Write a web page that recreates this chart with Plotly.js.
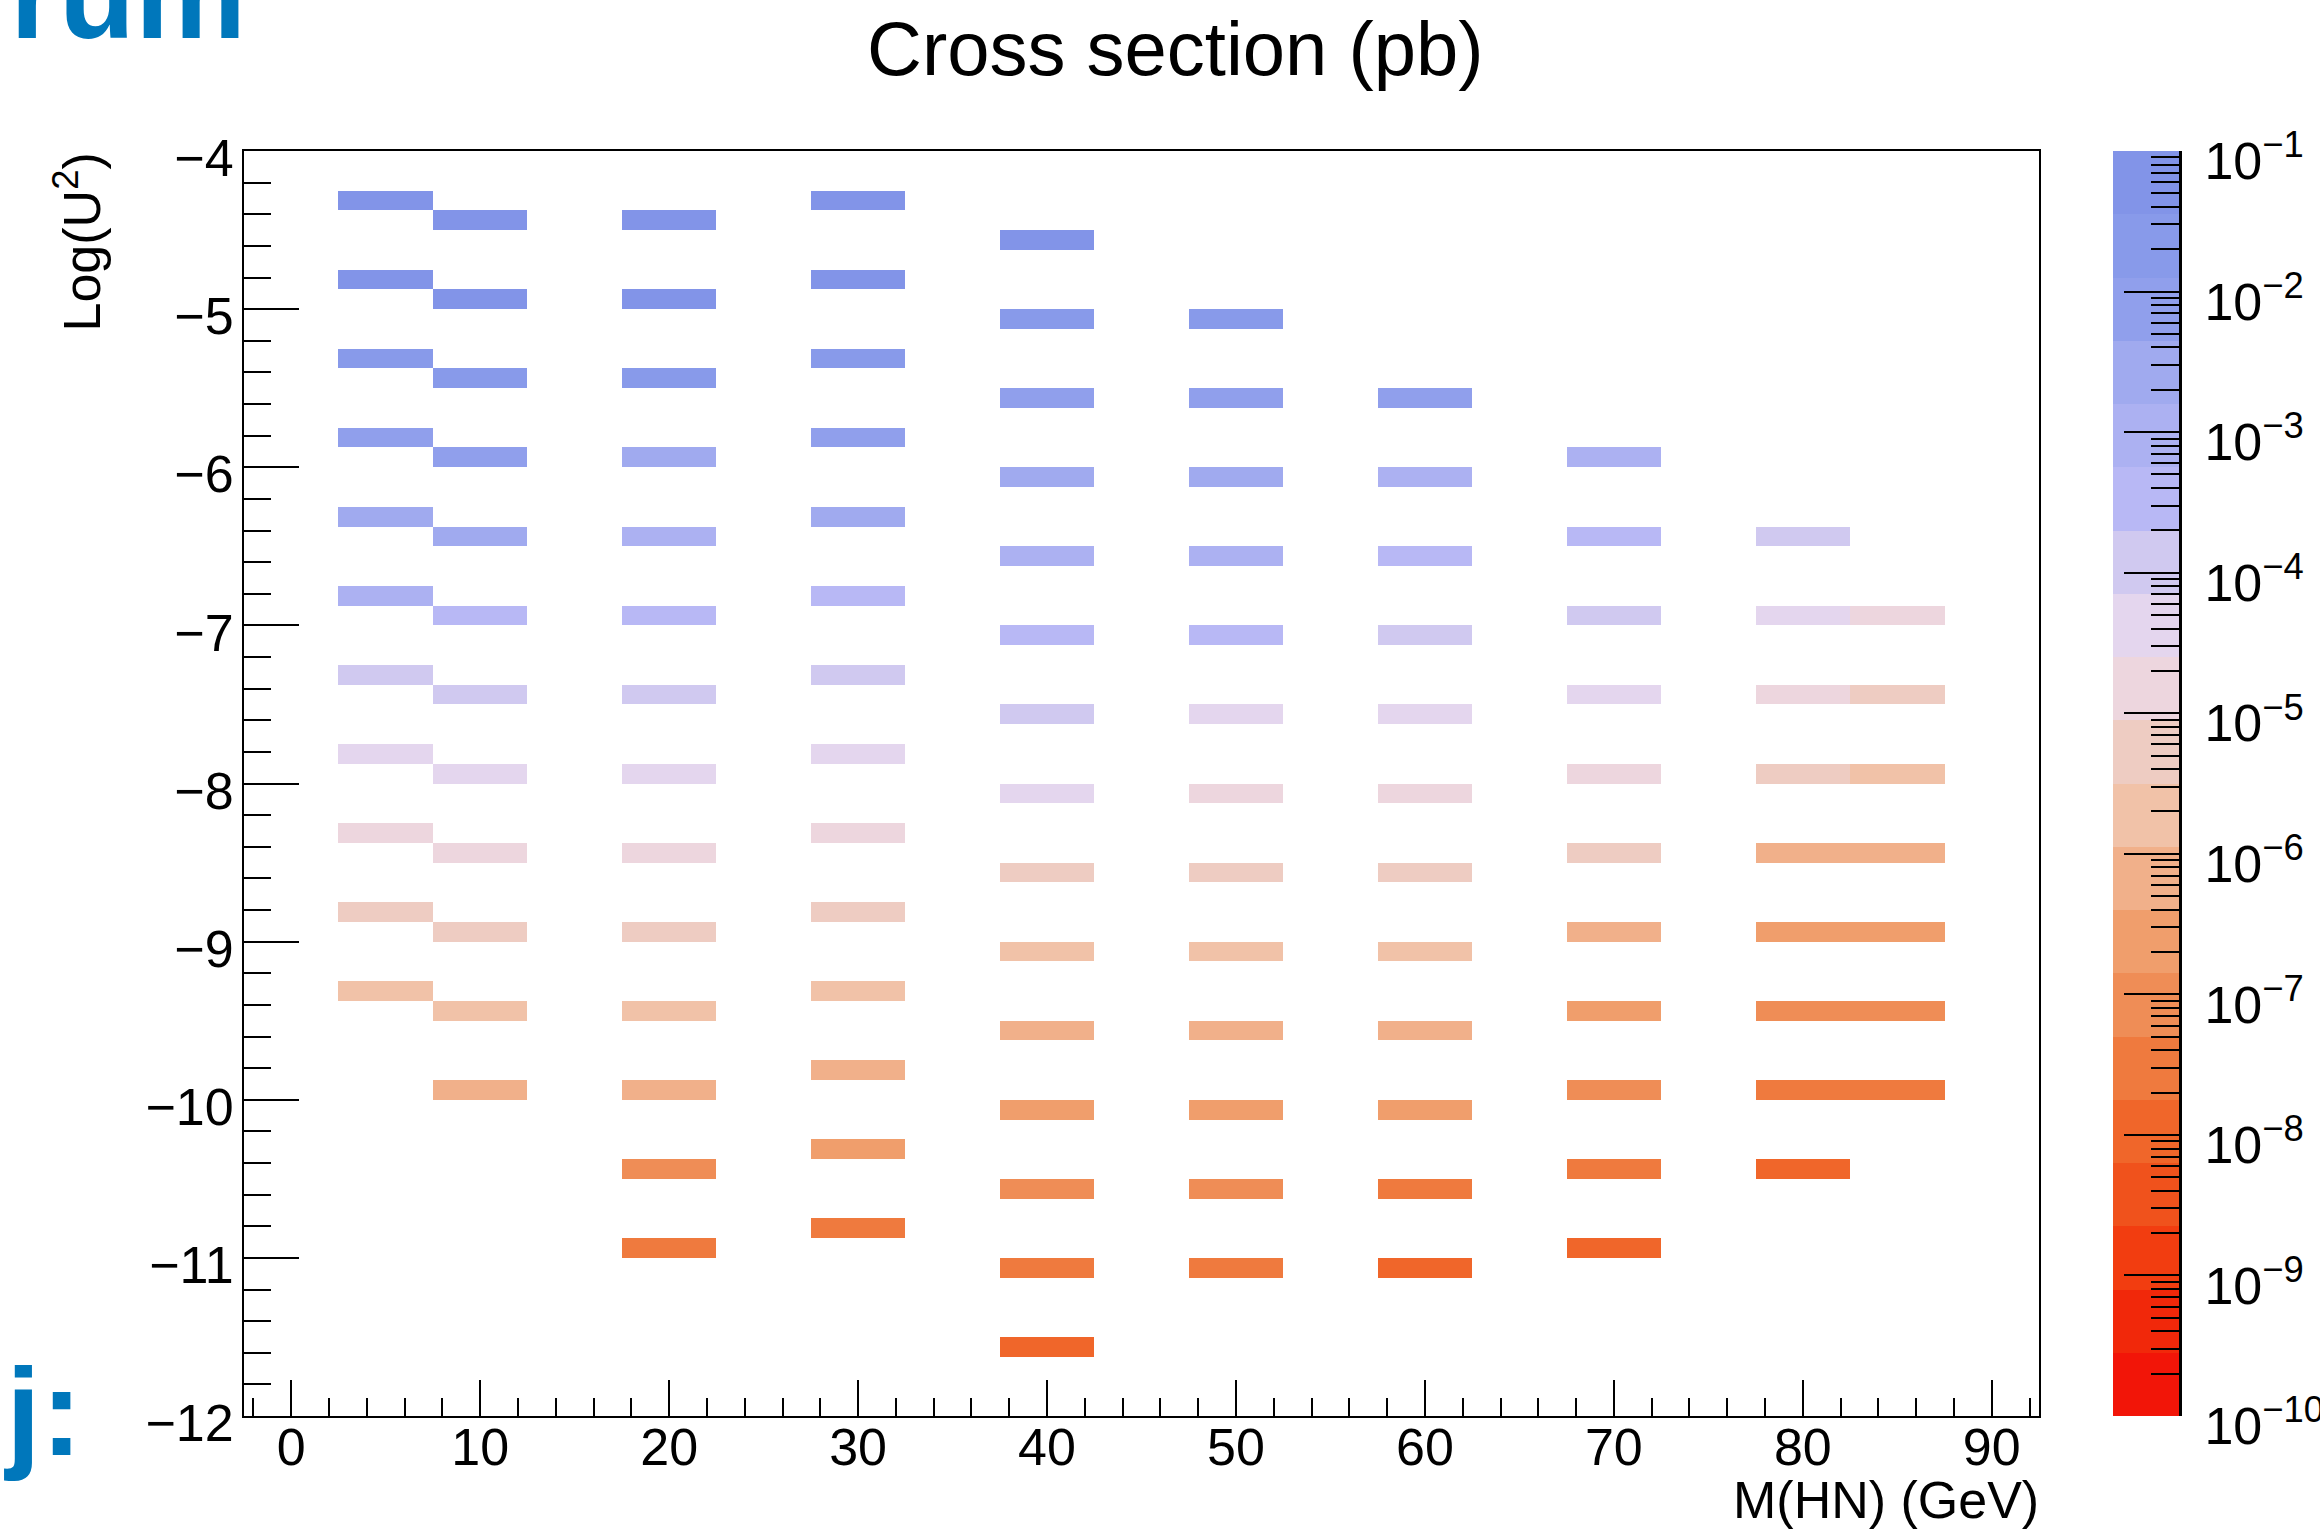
<!DOCTYPE html>
<html>
<head>
<meta charset="utf-8">
<script src="https://cdn.plot.ly/plotly-3.0.1.min.js"></script>
<style>
  html, body { margin: 0; padding: 0; background: #ffffff; }
  #chart { width: 2320px; height: 1530px; }
</style>
</head>
<body>
<div id="chart"></div>
<script>
// ---------------- DATA ----------------
// Heavy-neutrino mass points (GeV)
const masses = [5, 10, 20, 30, 40, 50, 60, 70, 80, 85];

// log10(U^2) values of the points, per mass
const logU2_m5  = [-4.3, -4.8, -5.3, -5.8, -6.3, -6.8, -7.3, -7.8, -8.3, -8.8, -9.3];
const logU2_m10 = [-4.45, -4.95, -5.45, -5.95, -6.45, -6.95, -7.45, -7.95, -8.45, -8.95, -9.45, -9.95];
const logU2_m20 = [-4.45, -4.95, -5.45, -5.95, -6.45, -6.95, -7.45, -7.95, -8.45, -8.95, -9.45, -9.95, -10.45, -10.95];
const logU2_m30 = [-4.3, -4.8, -5.3, -5.8, -6.3, -6.8, -7.3, -7.8, -8.3, -8.8, -9.3, -9.8, -10.3, -10.8];
const logU2_m40 = [-4.55, -5.05, -5.55, -6.05, -6.55, -7.05, -7.55, -8.05, -8.55, -9.05, -9.55, -10.05, -10.55, -11.05, -11.55];
const logU2_m50 = [-5.05, -5.55, -6.05, -6.55, -7.05, -7.55, -8.05, -8.55, -9.05, -9.55, -10.05, -10.55, -11.05];
const logU2_m60 = [-5.55, -6.05, -6.55, -7.05, -7.55, -8.05, -8.55, -9.05, -9.55, -10.05, -10.55, -11.05];
const logU2_m70 = [-5.95, -6.45, -6.95, -7.45, -7.95, -8.45, -8.95, -9.45, -9.95, -10.45, -10.95];
const logU2_m80 = [-6.45, -6.95, -7.45, -7.95, -8.45, -8.95, -9.45, -9.95, -10.45];
const logU2_m85 = [-6.95, -7.45, -7.95, -8.45, -8.95, -9.45, -9.95];

// Cross sections (pb), same order as the logU2 arrays
const xsec_m5  = [1.9e-1, 6.0e-2, 1.9e-2, 6.0e-3, 1.9e-3, 6.0e-4, 1.9e-4, 6.0e-5, 1.9e-5, 6.0e-6, 1.9e-6];
const xsec_m10 = [1.66e-1, 5.25e-2, 1.66e-2, 5.25e-3, 1.66e-3, 5.25e-4, 1.66e-4, 5.25e-5, 1.66e-5, 5.25e-6, 1.66e-6, 5.25e-7];
const xsec_m20 = [1.35e-1, 4.27e-2, 1.35e-2, 4.27e-3, 1.35e-3, 4.27e-4, 1.35e-4, 4.27e-5, 1.35e-5, 4.27e-6, 1.35e-6, 4.27e-7, 1.35e-7, 4.27e-8];
const xsec_m30 = [1.51e-1, 4.79e-2, 1.51e-2, 4.79e-3, 1.66e-3, 4.79e-4, 1.51e-4, 4.79e-5, 1.51e-5, 4.79e-6, 1.51e-6, 4.79e-7, 1.51e-7, 4.79e-8];
const xsec_m40 = [8.51e-2, 2.69e-2, 8.51e-3, 2.69e-3, 8.51e-4, 2.69e-4, 8.51e-5, 2.69e-5, 8.51e-6, 2.69e-6, 8.51e-7, 2.69e-7, 8.51e-8, 2.69e-8, 8.51e-9];
const xsec_m50 = [2.14e-2, 6.76e-3, 2.14e-3, 6.76e-4, 2.14e-4, 6.76e-5, 2.14e-5, 6.76e-6, 2.14e-6, 6.76e-7, 2.14e-7, 6.76e-8, 2.14e-8];
const xsec_m60 = [4.79e-3, 1.51e-3, 4.79e-4, 1.51e-4, 4.79e-5, 1.51e-5, 4.79e-6, 1.51e-6, 4.79e-7, 1.51e-7, 4.79e-8, 1.51e-8];
const xsec_m70 = [1.07e-3, 3.39e-4, 1.07e-4, 3.39e-5, 1.07e-5, 3.39e-6, 1.07e-6, 3.39e-7, 1.07e-7, 3.39e-8, 1.07e-8];
const xsec_m80 = [1.07e-4, 3.39e-5, 1.07e-5, 3.39e-6, 1.07e-6, 3.39e-7, 1.07e-7, 3.39e-8, 1.07e-8];
const xsec_m85 = [2.14e-5, 6.76e-6, 2.14e-6, 6.76e-7, 2.14e-7, 6.76e-8, 2.14e-8];

const logU2Sets = [logU2_m5, logU2_m10, logU2_m20, logU2_m30, logU2_m40, logU2_m50, logU2_m60, logU2_m70, logU2_m80, logU2_m85];
const xsecSets  = [xsec_m5, xsec_m10, xsec_m20, xsec_m30, xsec_m40, xsec_m50, xsec_m60, xsec_m70, xsec_m80, xsec_m85];

// Colour-axis tick labels (log scale, pb)
const zTickExponents = [-1, -2, -3, -4, -5, -6, -7, -8, -9, -10];
const zTickLabels = ['10<sup>\u22121</sup>', '10<sup>\u22122</sup>', '10<sup>\u22123</sup>', '10<sup>\u22124</sup>', '10<sup>\u22125</sup>',
                     '10<sup>\u22126</sup>', '10<sup>\u22127</sup>', '10<sup>\u22128</sup>', '10<sup>\u22129</sup>', '10<sup>\u221210</sup>'];

// ---------------- STYLE ----------------
// 20 discrete colour bands, from the lowest (bottom, red) to the highest (top, blue)
const palette = ['#F21508', '#F1280A', '#F23D10', '#F0521C', '#F0662A', '#EF7A3E', '#EF8D56', '#F09E6C', '#F1B08A', '#F1C2A8',
                 '#EECCC2', '#EDD6DE', '#E4D6EE', '#D0C9F0', '#B8B8F5', '#ACB1F2', '#A0AAEF', '#909FEC', '#889AEA', '#8294E8'];
const nBands = palette.length;
const zMin = -10, zMax = -1;
const colorscale = [];
palette.forEach((c, k) => { colorscale.push([k / nBands, c]); colorscale.push([(k + 1) / nBands, c]); });

const FONT = 'Liberation Sans, Arial, Helvetica, sans-serif';
const W = 2320, H = 1530;
const mL = 244, mR = 141, mT = 151, mB = 114;
const plotW = W - mL - mR, plotH = H - mT - mB;
const frameRight = 2039, cbLeft = 2113;
const px2x = p => (p - mL) / plotW;
const py2y = p => (H - mB - p) / plotH;

// ---------------- BINNING (histogram binning of the original) ----------------
const xBinW = 5, xLo = -2.5, nX = 19;
const yBinW = 0.125, yLo = -12, nY = 64;
const xEdges = Array.from({length: nX + 1}, (_, i) => xLo + i * xBinW);
const yEdges = Array.from({length: nY + 1}, (_, i) => yLo + i * yBinW);
const z = Array.from({length: nY}, () => Array(nX).fill(null));
masses.forEach((m, im) => {
  const ix = Math.floor((m - xLo) / xBinW + 1e-9);
  logU2Sets[im].forEach((v, j) => {
    const iy = Math.floor((v - yLo) / yBinW + 1e-9);
    z[iy][ix] = Math.log10(xsecSets[im][j]);
  });
});

// colour-bar column (palette bands along the log axis)
const bandEdges = Array.from({length: nBands + 1}, (_, k) => zMin + k * (zMax - zMin) / nBands);
const bandZ = bandEdges.slice(0, -1).map((e, k) => [ (e + bandEdges[k + 1]) / 2 ]);
const minorVals = [];
for (let e = -10; e < -1; e++) for (let k = 2; k <= 9; k++) minorVals.push(e + Math.log10(k));

const traces = [
  { type: 'heatmap', x: xEdges, y: yEdges, z: z, zmin: zMin, zmax: zMax, colorscale: colorscale,
    showscale: false, zsmooth: false, hoverinfo: 'skip', xaxis: 'x', yaxis: 'y' },
  { type: 'heatmap', x: [0, 1], y: bandEdges, z: bandZ, zmin: zMin, zmax: zMax, colorscale: colorscale,
    showscale: false, zsmooth: false, hoverinfo: 'skip', xaxis: 'x2', yaxis: 'y2' }
];

const axisFont = { family: FONT, size: 52, color: '#000' };
const layout = {
  width: W, height: H,
  margin: { l: mL, r: mR, t: mT, b: mB, pad: 0 },
  paper_bgcolor: '#ffffff', plot_bgcolor: '#ffffff',
  showlegend: false,
  font: { family: FONT, color: '#000' },
  xaxis: {
    domain: [0, px2x(frameRight)], anchor: 'y', range: [-2.5, 92.5],
    tickmode: 'linear', tick0: 0, dtick: 10,
    ticks: 'inside', ticklen: 36, tickwidth: 2, tickcolor: '#000',
    minor: { tick0: 0, dtick: 2, ticks: 'inside', ticklen: 18, tickwidth: 2, tickcolor: '#000', showgrid: false },
    showline: true, mirror: true, linecolor: '#000', linewidth: 2,
    showgrid: false, zeroline: false, tickfont: axisFont, ticklabelstandoff: -15
  },
  yaxis: {
    domain: [0, 1], anchor: 'x', range: [-12, -4],
    tickmode: 'linear', tick0: -12, dtick: 1,
    ticks: 'inside', ticklen: 55, tickwidth: 2, tickcolor: '#000',
    minor: { tick0: -12, dtick: 0.2, ticks: 'inside', ticklen: 27, tickwidth: 2, tickcolor: '#000', showgrid: false },
    showline: true, mirror: true, linecolor: '#000', linewidth: 2,
    showgrid: false, zeroline: false, tickfont: axisFont, ticklabelstandoff: -2, ticklabelshift: 7
  },
  xaxis2: {
    domain: [px2x(cbLeft), 1], anchor: 'y2', range: [0, 1], visible: false,
    showgrid: false, zeroline: false, fixedrange: true
  },
  yaxis2: {
    domain: [0, 1], anchor: 'x2', side: 'right', range: [zMin, zMax],
    tickmode: 'array', tickvals: zTickExponents, ticktext: zTickLabels,
    ticks: 'inside', ticklen: 55, tickwidth: 2, tickcolor: '#000',
    minor: { tickmode: 'array', tickvals: minorVals, ticks: 'inside', ticklen: 28, tickwidth: 2, tickcolor: '#000', showgrid: false },
    showline: true, linecolor: '#000', linewidth: 3, mirror: false,
    showgrid: false, zeroline: false, tickfont: axisFont, ticklabelstandoff: 12, ticklabelshift: 10
  },
  annotations: [
    { text: 'Cross section (pb)', xref: 'paper', yref: 'paper', x: px2x(1175), y: py2y(48),
      xanchor: 'center', yanchor: 'middle', showarrow: false, font: { family: FONT, size: 76, color: '#000' } },
    { text: 'M(HN) (GeV)', xref: 'paper', yref: 'paper', x: px2x(frameRight + 2), y: py2y(1500),
      xanchor: 'right', yanchor: 'middle', showarrow: false, font: axisFont },
    { text: 'Log(U<sup>2</sup>)', textangle: -90, xref: 'paper', yref: 'paper', x: px2x(78), y: py2y(151),
      xanchor: 'center', yanchor: 'top', showarrow: false, font: axisFont },
    { text: 'rum', xref: 'paper', yref: 'paper', x: px2x(248), y: py2y(66),
      xanchor: 'right', yanchor: 'bottom', showarrow: false,
      font: { family: FONT, size: 125, color: '#0077BB', weight: 'bold' } },
    { text: 'j:', xref: 'paper', yref: 'paper', x: px2x(2), y: py2y(1483),
      xanchor: 'left', yanchor: 'bottom', showarrow: false,
      font: { family: FONT, size: 125, color: '#0077BB', weight: 'bold' } }
  ]
};

Plotly.newPlot('chart', traces, layout, { displayModeBar: false, staticPlot: true });
</script>
</body>
</html>
